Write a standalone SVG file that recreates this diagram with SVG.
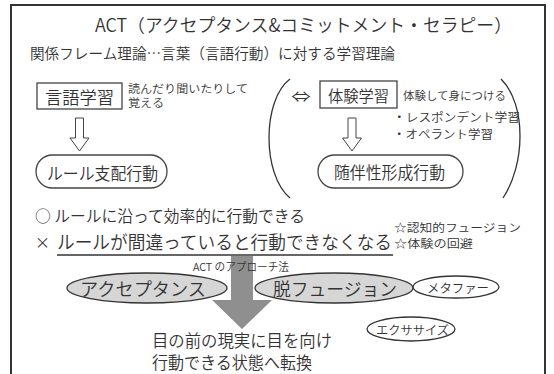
<svg xmlns="http://www.w3.org/2000/svg" width="554" height="374" viewBox="0 0 554 374">
<style>
text{font-family:"Noto Sans CJK JP DemiLight","Noto Sans CJK JP Light","Noto Sans CJK JP","Noto Sans",sans-serif;font-weight:300;fill:#333;dominant-baseline:central}
.box{fill:#fff;stroke:#444;stroke-width:1.3}
.oval{fill:#d6d6d6;stroke:#333;stroke-width:1.3}
.oval2{fill:#fff;stroke:#333;stroke-width:1.3}
.hollow{fill:#fff;stroke:#444;stroke-width:1}
.paren{fill:none;stroke:#333;stroke-width:1.3}
</style>
<rect x="11" y="5" width="534" height="420" fill="#fff" stroke="#333" stroke-width="2"/>
<g id="title">
<text x="95" y="24" font-size="18" textLength="417" lengthAdjust="spacingAndGlyphs">ACT（アクセプタンス&amp;コミットメント・セラピー）</text>
<text x="30" y="52" font-size="15" textLength="365" lengthAdjust="spacingAndGlyphs">関係フレーム理論…言葉（言語行動）に対する学習理論</text>
</g>
<g id="connectors">
<polygon class="hollow" points="75.5,118 83.5,118 83.5,138 89,138 79.5,151 70,138 75.5,138"/>
<polygon class="hollow" points="348,118 356,118 356,138 361.5,138 352,151 342.5,138 348,138"/>
<path class="paren" d="M290 79 C262 100 262 175 290 198"/>
<path class="paren" d="M501 79 C527 105 525 165 503 198"/>
<text x="291" y="95" font-size="15" textLength="20" lengthAdjust="spacingAndGlyphs">⇔</text>
<polygon fill="#8f8f8f" points="231,256 253,256 253,300 272,300 242,329 212,300 231,300"/>
</g>
<g id="gengo">
<rect class="box" x="37" y="83" width="85" height="26"/>
<text x="45" y="96" font-size="17" textLength="69" lengthAdjust="spacingAndGlyphs">言語学習</text>
<text x="128" y="88" font-size="11" textLength="120" lengthAdjust="spacingAndGlyphs">読んだり聞いたりして</text>
<text x="128" y="102" font-size="11" textLength="36" lengthAdjust="spacingAndGlyphs">覚える</text>
</g>
<g id="rule">
<rect class="box" x="36" y="155" width="131" height="33" rx="16.5"/>
<text x="47" y="172" font-size="17" textLength="111" lengthAdjust="spacingAndGlyphs">ルール支配行動</text>
</g>
<g id="taiken">
<rect class="box" x="320" y="81" width="77" height="27"/>
<text x="328" y="95" font-size="15.5" textLength="61" lengthAdjust="spacingAndGlyphs">体験学習</text>
<text x="403" y="95" font-size="11.5" textLength="103" lengthAdjust="spacingAndGlyphs">体験して身につける</text>
<text x="393" y="116" font-size="12" textLength="127" lengthAdjust="spacingAndGlyphs">・レスポンデント学習</text>
<text x="393" y="133" font-size="12" textLength="100" lengthAdjust="spacingAndGlyphs">・オペラント学習</text>
</g>
<g id="zuihan">
<rect class="box" x="318" y="155" width="145" height="33" rx="16.5"/>
<text x="334" y="172" font-size="16.5" textLength="111" lengthAdjust="spacingAndGlyphs">随伴性形成行動</text>
</g>
<g id="merits">
<text x="35" y="215" font-size="16" textLength="270" lengthAdjust="spacingAndGlyphs">○ ルールに沿って効率的に行動できる</text>
<text x="35" y="241" font-size="15">×</text>
<text x="57" y="241" font-size="18.5" textLength="335" lengthAdjust="spacingAndGlyphs">ルールが間違っていると行動できなくなる</text>
<line x1="57" y1="255" x2="393" y2="255" stroke="#333" stroke-width="1.5"/>
<text x="394" y="227" font-size="11.5" textLength="127" lengthAdjust="spacingAndGlyphs">☆認知的フュージョン</text>
<text x="394" y="243" font-size="11.5" textLength="79" lengthAdjust="spacingAndGlyphs">☆体験の回避</text>
</g>
<g id="approach">
<text x="193" y="266" font-size="11" textLength="96" lengthAdjust="spacingAndGlyphs">ACT のアプローチ法</text>
</g>
<g id="acceptance">
<ellipse class="oval" cx="147" cy="288" rx="80" ry="15"/>
<text x="80" y="288" font-size="18" textLength="126" lengthAdjust="spacingAndGlyphs">アクセプタンス</text>
</g>
<g id="defusion">
<ellipse class="oval" cx="334" cy="288" rx="79" ry="15"/>
<text x="273" y="288" font-size="18" textLength="124" lengthAdjust="spacingAndGlyphs">脱フュージョン</text>
</g>
<g id="metaphor">
<ellipse class="oval2" cx="456" cy="287" rx="43" ry="11"/>
<text x="427" y="287" font-size="12.5" textLength="62" lengthAdjust="spacingAndGlyphs">メタファー</text>
</g>
<g id="exercise">
<ellipse class="oval2" cx="411" cy="329" rx="44" ry="12"/>
<text x="376" y="329" font-size="12.5" textLength="73" lengthAdjust="spacingAndGlyphs">エクササイズ</text>
</g>
<g id="result">
<text x="152" y="339" font-size="17" textLength="180" lengthAdjust="spacingAndGlyphs">目の前の現実に目を向け</text>
<text x="152" y="361" font-size="17" textLength="160" lengthAdjust="spacingAndGlyphs">行動できる状態へ転換</text>
</g>
</svg>
